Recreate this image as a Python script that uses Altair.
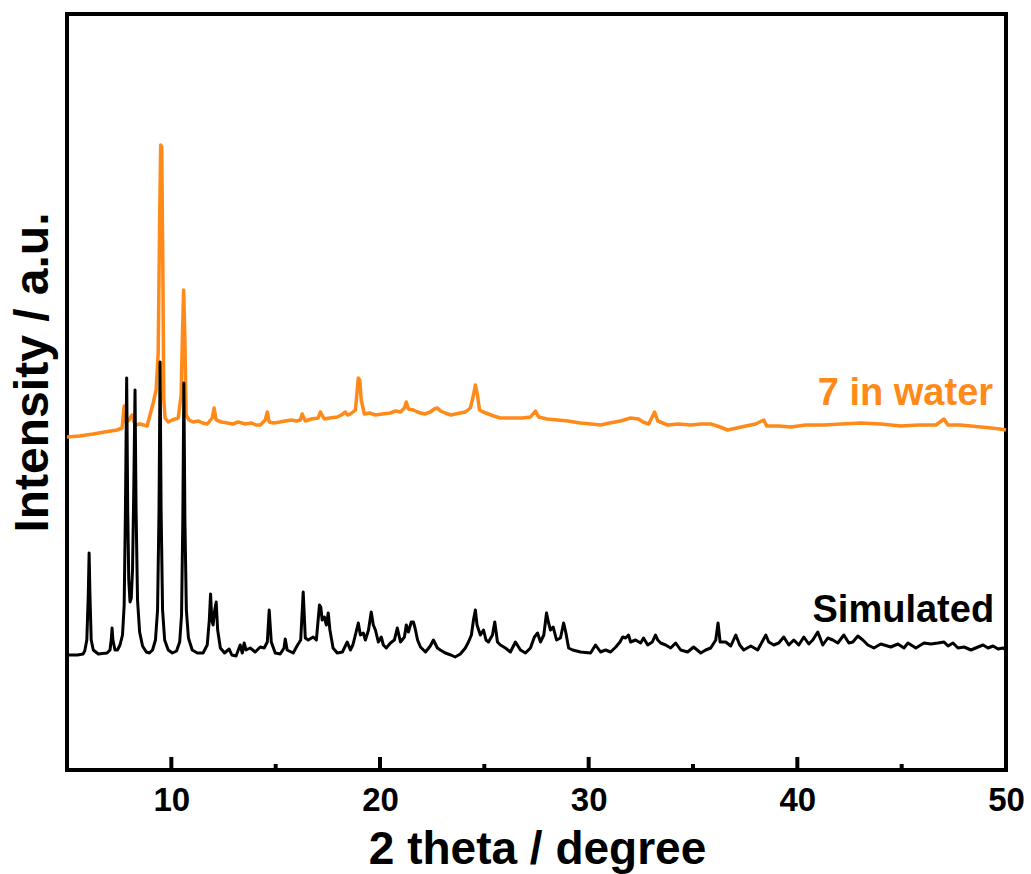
import altair as alt
import pandas as pd

ORANGE = "#FF8A1A"
FONT = "Liberation Sans"

# Simulated pattern (2theta in degree, intensity in a.u.)
sim_2theta = [
    5.05, 5.50, 5.77, 5.85, 5.95, 6.02, 6.06, 6.10, 6.16, 6.26,
    6.50, 6.92, 7.06, 7.12, 7.16, 7.20, 7.30, 7.42, 7.54, 7.66,
    7.74, 7.80, 7.86, 7.91, 7.96, 8.02, 8.08, 8.14, 8.20, 8.26,
    8.31, 8.38, 8.48, 8.62, 8.80, 8.95, 9.10, 9.24, 9.34, 9.41,
    9.46, 9.51, 9.58, 9.68, 9.85, 10.05, 10.25, 10.40, 10.49, 10.55,
    10.60, 10.65, 10.72, 10.82, 11.00, 11.25, 11.52, 11.72, 11.82, 11.88,
    11.94, 12.00, 12.08, 12.15, 12.22, 12.35, 12.55, 12.77, 12.90, 13.10,
    13.30, 13.40, 13.49, 13.58, 13.78, 14.02, 14.26, 14.45, 14.60, 14.69,
    14.79, 14.98, 15.22, 15.40, 15.46, 15.55, 15.84, 16.05, 16.20, 16.32,
    16.42, 16.56, 16.80, 16.95, 17.10, 17.16, 17.23, 17.33, 17.43, 17.52,
    17.60, 17.75, 17.95, 18.20, 18.43, 18.58, 18.70, 18.82, 18.96, 19.06,
    19.20, 19.30, 19.45, 19.58, 19.68, 19.78, 19.92, 20.06, 20.16, 20.30,
    20.50, 20.69, 20.83, 20.98, 21.17, 21.26, 21.36, 21.50, 21.60, 21.68,
    21.80, 21.94, 22.18, 22.41, 22.56, 22.75, 22.89, 23.13, 23.40, 23.60,
    23.85, 24.09, 24.24, 24.38, 24.48, 24.57, 24.65, 24.81, 24.96, 25.08,
    25.20, 25.39, 25.50, 25.63, 25.77, 26.01, 26.25, 26.49, 26.73, 26.97,
    27.21, 27.40, 27.55, 27.69, 27.85, 27.98, 28.08, 28.17, 28.30, 28.46,
    28.65, 28.80, 28.90, 29.04, 29.23, 29.61, 30.09, 30.33, 30.57, 30.81,
    31.05, 31.30, 31.50, 31.63, 31.77, 31.91, 32.01, 32.25, 32.49, 32.63,
    32.83, 33.05, 33.20, 33.31, 33.45, 33.69, 33.93, 34.17, 34.41, 34.74,
    35.03, 35.37, 35.61, 35.85, 36.09, 36.20, 36.30, 36.57, 36.81, 37.05,
    37.24, 37.43, 37.77, 38.10, 38.49, 38.63, 38.87, 39.11, 39.35, 39.59,
    39.83, 40.07, 40.31, 40.55, 40.74, 40.98, 41.22, 41.46, 41.70, 41.94,
    42.23, 42.47, 42.66, 42.90, 43.14, 43.38, 43.67, 44.00, 44.48, 44.82,
    45.11, 45.30, 45.68, 46.07, 46.40, 46.74, 47.03, 47.22, 47.46, 47.70,
    47.99, 48.32, 48.66, 48.90, 49.14, 49.38, 49.62, 49.86, 50.00,
]
sim_intensity = [
    115, 115, 116, 119, 130, 175, 217, 175, 130, 120,
    116, 117, 120, 130, 142, 130, 120, 120, 125, 135,
    165, 260, 392, 260, 190, 168, 172, 200, 280, 380,
    260, 170, 138, 124, 118, 117, 120, 130, 160, 260,
    408, 260, 160, 130, 120, 117, 119, 128, 155, 250,
    387, 250, 160, 132, 120, 117, 117, 125, 150, 176,
    150, 145, 160, 168, 140, 122, 117, 121, 115, 114,
    125, 117, 127, 120, 122, 118, 123, 122, 128, 160,
    128, 117, 116, 122, 131, 120, 117, 125, 130, 178,
    132, 130, 133, 130, 165, 163, 150, 153, 145, 157,
    140, 122, 117, 118, 128, 120, 125, 135, 147, 135,
    137, 130, 140, 158, 145, 140, 128, 133, 125, 122,
    127, 130, 142, 128, 133, 145, 138, 148, 148, 142,
    130, 123, 118, 124, 130, 122, 120, 117, 115, 113,
    116, 122, 128, 135, 150, 160, 145, 135, 140, 130,
    128, 135, 148, 128, 125, 122, 118, 128, 120, 117,
    122, 133, 137, 128, 135, 157, 147, 140, 143, 130,
    132, 147, 138, 122, 120, 118, 117, 125, 118, 120,
    118, 123, 128, 133, 132, 135, 128, 130, 127, 132,
    125, 128, 135, 130, 127, 125, 122, 127, 120, 118,
    123, 117, 120, 122, 130, 147, 128, 128, 124, 135,
    125, 120, 124, 120, 135, 128, 125, 127, 133, 125,
    130, 125, 133, 126, 130, 138, 125, 132, 130, 127,
    135, 127, 128, 134, 130, 125, 122, 126, 123, 126,
    122, 127, 122, 127, 126, 127, 128, 124, 127, 122,
    123, 120, 123, 125, 122, 124, 121, 122, 120,
]

# "7 in water" measured pattern
water_2theta = [
    5.00, 5.60, 6.25, 6.80, 7.40, 7.64, 7.74, 7.83, 7.97, 8.12,
    8.26, 8.50, 8.84, 9.13, 9.27, 9.37, 9.44, 9.49, 9.54, 9.59,
    9.64, 9.70, 9.85, 10.04, 10.33, 10.47, 10.54, 10.59, 10.64, 10.71,
    10.85, 11.04, 11.30, 11.50, 11.72, 11.96, 12.05, 12.15, 12.40, 12.68,
    12.95, 13.20, 13.54, 13.85, 14.05, 14.26, 14.50, 14.60, 14.69, 14.90,
    15.20, 15.46, 15.75, 16.00, 16.18, 16.27, 16.42, 16.70, 17.04, 17.14,
    17.33, 17.60, 17.95, 18.15, 18.34, 18.45, 18.58, 18.82, 18.91, 18.96,
    19.03, 19.10, 19.25, 19.50, 19.78, 20.10, 20.50, 20.75, 20.98, 21.17,
    21.26, 21.36, 21.60, 21.80, 21.94, 22.15, 22.41, 22.60, 22.75, 22.90,
    23.13, 23.40, 23.61, 23.85, 24.09, 24.33, 24.48, 24.57, 24.67, 24.77,
    24.95, 25.20, 25.45, 25.77, 26.10, 26.49, 26.85, 27.21, 27.45, 27.60,
    28.00, 28.51, 29.00, 29.61, 30.10, 30.57, 31.00, 31.53, 32.01, 32.39,
    32.60, 32.88, 33.16, 33.31, 33.79, 34.30, 34.89, 35.40, 35.85, 36.30,
    36.66, 37.10, 37.53, 38.00, 38.39, 38.53, 39.10, 39.69, 40.40, 41.27,
    42.10, 43.05, 44.00, 44.96, 45.80, 46.64, 47.03, 47.22, 47.80, 48.32,
    48.80, 49.28, 49.70, 50.00,
]
water_intensity = [
    333, 334, 336, 338, 340, 342, 364, 348, 350, 355,
    345, 346, 344, 367, 380, 417, 550, 625, 623, 510,
    370, 352, 348, 350, 352, 375, 440, 480, 440, 355,
    350, 348, 349, 347, 346, 352, 362, 350, 348, 347,
    346, 348, 346, 347, 345, 345, 350, 358, 348, 347,
    348, 349, 350, 349, 350, 356, 349, 351, 352, 358,
    351, 352, 353, 355, 358, 355, 356, 360, 380, 392,
    390, 370, 356, 357, 355, 356, 357, 359, 358, 362,
    368, 361, 360, 358, 357, 356, 358, 361, 362, 359,
    357, 355, 356, 357, 358, 362, 375, 385, 375, 360,
    358, 356, 354, 352, 352, 352, 352, 353, 359, 353,
    351, 350, 349, 347, 346, 345, 347, 349, 352, 351,
    348, 346, 358, 349, 345, 346, 345, 346, 346, 343,
    340, 342, 344, 346, 350, 344, 344, 343, 345, 345,
    346, 347, 346, 344, 345, 345, 351, 345, 345, 344,
    343, 342, 341, 340,
]

major_ticks = [10, 20, 30, 40, 50]
minor_ticks = [15, 25, 35, 45]

label_text = ["7 in water", "Simulated"]
label_2theta = [49.38, 49.43]
label_intensity = [365, 148]
label_color = [ORANGE, "black"]

assert len(sim_2theta) == len(sim_intensity)
assert len(water_2theta) == len(water_intensity)

sim = pd.DataFrame({"two_theta": sim_2theta, "intensity": sim_intensity})
water = pd.DataFrame({"two_theta": water_2theta, "intensity": water_intensity})
major_df = pd.DataFrame({"two_theta": major_ticks})
minor_df = pd.DataFrame({"two_theta": minor_ticks})
labels = pd.DataFrame({"two_theta": label_2theta, "intensity": label_intensity,
                       "text": label_text, "color": label_color})

W, H = 939, 756
x_scale = alt.Scale(domain=[5, 50], nice=False, zero=False)
y_scale = alt.Scale(domain=[0, 756], nice=False, zero=False)

x_axis = alt.Axis(
    values=major_ticks, ticks=False, domain=False, grid=False,
    labelFont=FONT, labelFontSize=33, labelFontWeight="bold", labelColor="black",
    labelPadding=14, labelFlush=False,
    title="2 theta / degree", titleFont=FONT, titleFontSize=46, titleFontWeight="bold",
    titleColor="black", titleBaseline="alphabetic", titleX=470, titleY=93,
)
y_axis = alt.Axis(
    labels=False, ticks=False, domain=False, grid=False,
    title="Intensity / a.u.", titleFont=FONT, titleFontSize=48, titleFontWeight="bold",
    titleColor="black", titleBaseline="alphabetic", titleAngle=270,
    titleX=-20, titleY=358,
)

sim_line = alt.Chart(sim).mark_line(color="black", strokeWidth=3, strokeJoin="round").encode(
    x=alt.X("two_theta:Q", scale=x_scale, axis=x_axis),
    y=alt.Y("intensity:Q", scale=y_scale, axis=y_axis),
)
water_line = alt.Chart(water).mark_line(color=ORANGE, strokeWidth=3.5, strokeJoin="round").encode(
    x=alt.X("two_theta:Q", scale=x_scale),
    y=alt.Y("intensity:Q", scale=y_scale),
)
major_rules = alt.Chart(major_df).mark_rule(color="black", strokeWidth=4).encode(
    x=alt.X("two_theta:Q", scale=x_scale),
    y=alt.value(H - 13), y2=alt.value(H),
)
minor_rules = alt.Chart(minor_df).mark_rule(color="black", strokeWidth=4).encode(
    x=alt.X("two_theta:Q", scale=x_scale),
    y=alt.value(H - 6), y2=alt.value(H),
)
texts = alt.Chart(labels).mark_text(
    align="right", baseline="alphabetic", font=FONT, fontSize=38, fontWeight="bold"
).encode(
    x=alt.X("two_theta:Q", scale=x_scale),
    y=alt.Y("intensity:Q", scale=y_scale),
    text="text:N",
    color=alt.Color("color:N", scale=None),
)

chart = alt.layer(water_line, sim_line, major_rules, minor_rules, texts).properties(
    width=W, height=H,
    autosize=alt.AutoSizeParams(type="none"),
    padding={"left": 67, "top": 14, "right": 25, "bottom": 104},
    background="white",
).configure_view(stroke="black", strokeWidth=4)

chart.save("out.html", embed_options={"renderer": "svg", "actions": False})
